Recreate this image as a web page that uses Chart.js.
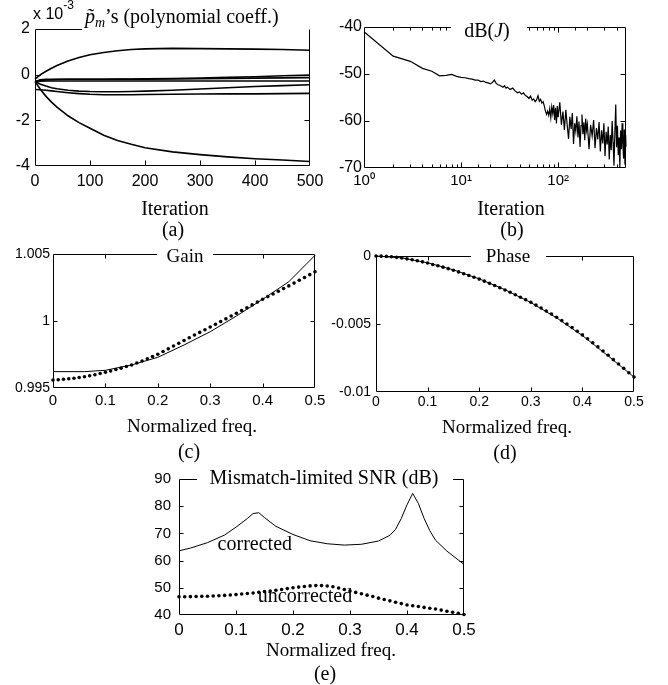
<!DOCTYPE html>
<html>
<head>
<meta charset="utf-8">
<script src="https://cdn.jsdelivr.net/npm/chart.js@4.4.0/dist/chart.umd.min.js"></script>
<style>
  html, body { margin: 0; padding: 0; background: #fff; }
  #wrap { position: relative; width: 668px; height: 685px; overflow: hidden; }
  #wrap canvas { position: absolute; left: 0; top: 0; }
</style>
</head>
<body>
<div id="wrap">
  <canvas id="chartA" width="668" height="685"></canvas>
  <canvas id="chartB" width="668" height="685"></canvas>
  <canvas id="chartC" width="668" height="685"></canvas>
  <canvas id="chartD" width="668" height="685"></canvas>
  <canvas id="chartE" width="668" height="685"></canvas>
</div>
<script>
// ---- (a) polynomial coefficient trajectories, in units of 1e-3 ----
const iterA = [0, 10, 20, 30, 40, 60, 80, 100, 125, 150, 175, 200, 250, 300, 350, 400, 450, 500];
const coefA1 = [-0.2, 0.0, 0.15, 0.28, 0.4, 0.6, 0.75, 0.87, 0.97, 1.05, 1.1, 1.13, 1.15, 1.14, 1.13, 1.12, 1.1, 1.07];
const coefA2 = [-0.3, -0.22, -0.2, -0.2, -0.2, -0.2, -0.2, -0.2, -0.2, -0.19, -0.19, -0.18, -0.17, -0.15, -0.12, -0.09, -0.05, -0.02];
const coefA3 = [-0.3, -0.25, -0.23, -0.22, -0.21, -0.2, -0.2, -0.2, -0.2, -0.2, -0.2, -0.2, -0.19, -0.18, -0.17, -0.15, -0.14, -0.13];
const coefA4 = [-0.3, -0.29, -0.28, -0.28, -0.28, -0.28, -0.28, -0.28, -0.28, -0.28, -0.28, -0.28, -0.28, -0.28, -0.28, -0.28, -0.28, -0.28];
const coefA5 = [-0.3, -0.42, -0.5, -0.57, -0.62, -0.68, -0.72, -0.74, -0.75, -0.75, -0.74, -0.72, -0.68, -0.63, -0.57, -0.52, -0.48, -0.44];
const coefA6 = [-0.65, -0.66, -0.68, -0.71, -0.74, -0.79, -0.83, -0.86, -0.88, -0.88, -0.88, -0.87, -0.86, -0.85, -0.84, -0.84, -0.83, -0.82];
const coefA7 = [-0.3, -0.65, -0.95, -1.2, -1.42, -1.8, -2.1, -2.35, -2.65, -2.88, -3.05, -3.2, -3.38, -3.5, -3.6, -3.68, -3.74, -3.8];

// ---- (b) dB(J) vs iteration ----
const iterB = [
  1, 2, 3, 4, 5, 6, 7, 8, 9, 10,
  11, 12, 13, 14, 15, 16, 17, 18, 19, 20,
  21, 22, 23, 24, 25, 26, 27, 28, 29, 30,
  32, 34, 36, 38, 40, 42, 44, 46, 48, 50, 52, 54, 56, 58,
  60, 62, 64, 66, 68, 70, 72, 74, 76, 78, 80, 82, 84, 86, 88, 90, 92, 94, 96, 98, 100,
  104, 108, 112, 116, 120, 124, 128, 132, 136, 140, 144, 148, 152, 156, 160, 164, 168, 172, 176, 180, 184, 188, 192, 196, 200,
  208, 216, 224, 232, 240, 248, 256, 264, 272, 280, 288, 296, 304, 312, 320, 328, 336, 344, 352, 360,
  368, 376, 384, 392, 400, 408, 416, 424, 432, 440, 448, 456, 464, 472, 480, 488, 496, 500
];
const dbJ = [
  -41.0, -46.2, -47.3, -48.8, -49.4, -50.4, -50.3, -50.1, -50.5, -50.7,
  -50.8, -51.0, -51.1, -51.3, -51.3, -51.6, -51.5, -51.8, -51.9, -52.1,
  -51.8, -51.3, -52.0, -52.3, -52.4, -52.6, -52.8, -52.5, -53.0, -52.8,
  -53.3, -53.0, -53.6, -54.0, -53.8, -54.3, -54.0, -54.6, -54.8, -55.2, -54.7, -55.6, -55.3, -55.9,
  -55.5, -54.6, -55.8, -55.4, -56.2, -55.9, -56.8, -57.9, -58.6, -57.9, -58.8, -57.4, -59.3, -57.0, -58.4, -56.6, -59.8, -57.2, -60.5, -56.8, -59.2,
  -56.0, -60.8, -58.0, -61.9, -57.6, -60.9, -63.8, -59.1, -61.7, -58.3, -64.9, -60.5, -62.2, -59.0, -63.5, -60.1, -65.5, -61.0, -58.6, -62.8, -60.3, -64.1, -59.5, -62.0, -60.7,
  -66.0, -60.8, -63.2, -59.8, -65.8, -61.5, -63.9, -60.2, -66.5, -62.0, -64.8, -60.5, -67.5, -62.3, -65.0, -61.2, -68.2, -63.0, -66.2, -60.0,
  -64.5, -69.5, -62.5, -56.5, -65.6, -61.0, -67.3, -63.5, -69.8, -62.0, -66.0, -60.5, -64.8, -68.0, -61.8, -69.3, -63.0, -65.5
];

// ---- (c)(d)(e) frequency responses ----
const freqDots = [
  0, 0.01, 0.02, 0.03, 0.04, 0.05, 0.06, 0.07, 0.08, 0.09,
  0.10, 0.11, 0.12, 0.13, 0.14, 0.15, 0.16, 0.17, 0.18, 0.19,
  0.20, 0.21, 0.22, 0.23, 0.24, 0.25, 0.26, 0.27, 0.28, 0.29,
  0.30, 0.31, 0.32, 0.33, 0.34, 0.35, 0.36, 0.37, 0.38, 0.39,
  0.40, 0.41, 0.42, 0.43, 0.44, 0.45, 0.46, 0.47, 0.48, 0.49,
  0.50
];
const gainDots = [
  0.9956, 0.99562, 0.99565, 0.99569, 0.99573, 0.99578, 0.99584, 0.99591, 0.99599, 0.99608,
  0.99617, 0.99627, 0.99638, 0.99648, 0.9966, 0.99672, 0.99687, 0.99702, 0.99718, 0.99735,
  0.99752, 0.99772, 0.99792, 0.99813, 0.99834, 0.99855, 0.99875, 0.99895, 0.99915, 0.99935,
  0.99955, 0.99975, 0.99996, 1.00016, 1.00037, 1.00057, 1.00078, 1.00099, 1.0012, 1.00141,
  1.00162, 1.00182, 1.00202, 1.00222, 1.00242, 1.00262, 1.00283, 1.00304, 1.00325, 1.00346,
  1.00368
];
const freqGainLine = [0, 0.06, 0.1, 0.15, 0.2, 0.25, 0.3, 0.35, 0.4, 0.45, 0.5];
const gainLine = [0.99622, 0.99622, 0.99632, 0.99672, 0.99729, 0.99821, 0.9992, 1.00037, 1.00162, 1.00293, 1.0049];

const phaseDots = [
  0, -0.00001, -0.00003, -0.00006, -0.0001, -0.00015, -0.00021, -0.00028, -0.00035, -0.00043,
  -0.00052, -0.00062, -0.00072, -0.00082, -0.00093, -0.00105, -0.00117, -0.0013, -0.00143, -0.00156,
  -0.0017, -0.00185, -0.00201, -0.00217, -0.00233, -0.0025, -0.00267, -0.00285, -0.00303, -0.00321,
  -0.0034, -0.00361, -0.00382, -0.00404, -0.00427, -0.0045, -0.00475, -0.005, -0.00526, -0.00553,
  -0.0058, -0.00609, -0.00638, -0.00668, -0.00699, -0.0073, -0.00762, -0.00794, -0.00826, -0.00858,
  -0.0089
];
const freqPhaseLine = [0, 0.05, 0.1, 0.15, 0.2, 0.25, 0.3, 0.35, 0.4, 0.45, 0.5];
const phaseLine = [0, -0.00014, -0.0005, -0.00102, -0.00168, -0.00248, -0.00342, -0.00455, -0.00585, -0.00735, -0.0089];

const snrUncorr = [
  46.7, 46.7, 46.75, 46.8, 46.85, 46.9, 47.0, 47.1, 47.2, 47.35,
  47.5, 47.7, 47.9, 48.1, 48.35, 48.6, 48.85, 49.1, 49.4, 49.7,
  50.0, 50.25, 50.5, 50.7, 50.8, 50.8, 50.65, 50.4, 49.9, 49.4,
  48.8, 48.3, 47.8, 47.3, 46.8, 46.2, 45.7, 45.2, 44.7, 44.2,
  43.7, 43.4, 43.1, 42.8, 42.5, 42.2, 41.8, 41.4, 41.0, 40.6,
  40.2
];
const freqSnrLine = [0, 0.02, 0.05, 0.08, 0.1, 0.12, 0.13, 0.14, 0.15, 0.17, 0.2, 0.23, 0.26, 0.29, 0.32,
  0.35, 0.37, 0.38, 0.39, 0.4, 0.41, 0.42, 0.43, 0.44, 0.45, 0.47, 0.5];
const snrCorr = [63.6, 64.6, 66.6, 69.4, 72.3, 75.5, 77.3, 77.6, 75.8, 72.6, 69.6, 67.3, 66.2, 65.7, 66.0,
  67.2, 69.3, 71.5, 75.5, 80.5, 84.7, 81.0, 75.5, 71.0, 67.5, 63.5, 58.6];

const W = 668, H = 685;
const SANS = '"Liberation Sans", Arial, sans-serif';
const SERIF = '"Liberation Serif", "Times New Roman", serif';
const serif = (size, style) => (style ? style + ' ' : '') + size + 'px ' + SERIF;

function pts(xs, ys) {
  return xs.map((x, i) => ({ x: x, y: ys[i] }));
}

function lineSet(xs, ys, width) {
  return { data: pts(xs, ys), borderColor: '#000', borderWidth: width || 1, pointRadius: 0,
           tension: 0, fill: false, clip: 2 };
}

function dotSet(xs, ys) {
  return { data: pts(xs, ys), showLine: false, pointRadius: 1.8, pointBorderWidth: 0,
           pointBackgroundColor: '#000', borderColor: '#000', clip: 4 };
}

function isDecade(v) {
  const l = Math.log10(v);
  return Math.abs(l - Math.round(l)) < 1e-9;
}

// draws the MATLAB-like box with inward ticks, the gap for the title, and the extra texts
const framePlugin = {
  id: 'frame',
  afterDatasetsDraw(chart, args, o) {
    const ctx = chart.ctx, a = chart.chartArea;
    const xs = chart.scales.x, ys = chart.scales.y;
    const L = Math.round(a.left) + 0.5, R = Math.round(a.right) - 0.5;
    const T = Math.round(a.top) + 0.5, B = Math.round(a.bottom) - 0.5;
    ctx.save();
    ctx.strokeStyle = '#000';
    ctx.lineWidth = 1;
    ctx.beginPath();
    ctx.moveTo(L, T); ctx.lineTo(L, B); ctx.lineTo(R, B); ctx.lineTo(R, T);
    if (o.gap) {
      ctx.lineTo(Math.min(o.gap[1], R), T);
      ctx.moveTo(o.gap[0], T); ctx.lineTo(L, T);
    } else {
      ctx.lineTo(L, T);
    }
    // inward ticks
    xs.ticks.forEach(t => {
      const p = Math.round(xs.getPixelForValue(t.value)) + 0.5;
      if (p <= L + 1 || p >= R - 1) return;
      const len = (o.logMinor && !isDecade(t.value)) ? o.logMinor : o.tick;
      ctx.moveTo(p, B); ctx.lineTo(p, B - len);
      if (!(o.gap && p > o.gap[0] && p < o.gap[1])) {
        ctx.moveTo(p, T); ctx.lineTo(p, T + len);
      }
    });
    ys.ticks.forEach(t => {
      const p = Math.round(ys.getPixelForValue(t.value)) + 0.5;
      if (p <= T + 1 || p >= B - 1) return;
      ctx.moveTo(L, p); ctx.lineTo(L + o.tick, p);
      ctx.moveTo(R, p); ctx.lineTo(R - o.tick, p);
    });
    ctx.stroke();

    ctx.fillStyle = '#000';
    ctx.textBaseline = 'alphabetic';
    ctx.textAlign = 'left';
    (o.texts || []).forEach(tx => {
      let x = tx.data ? xs.getPixelForValue(tx.x) : tx.x;
      const y = tx.data ? ys.getPixelForValue(tx.y) : tx.y;
      let w = 0;
      tx.parts.forEach(p => { ctx.font = p.f; w += ctx.measureText(p.t).width; });
      if (tx.align === 'center') x -= w / 2;
      tx.parts.forEach(p => {
        ctx.font = p.f;
        ctx.fillText(p.t, x, y + (p.dy || 0));
        x += ctx.measureText(p.t).width;
      });
    });
    ctx.restore();
  }
};

function axis(base, size, pad, fit) {
  return Object.assign({
    type: 'linear',
    grid: { display: false, drawTicks: false },
    border: { display: false },
    ticks: { font: { family: SANS, size: size }, color: '#000', padding: pad,
             maxRotation: 0, autoSkip: false },
    afterFit: fit
  }, base, { ticks: Object.assign({ font: { family: SANS, size: size }, color: '#000', padding: pad,
             maxRotation: 0, autoSkip: false }, base.ticks || {}) });
}

function makeChart(id, cfg) {
  const [l, t, r, b] = cfg.box;
  return new Chart(document.getElementById(id), {
    type: 'line',
    data: { datasets: cfg.datasets },
    options: {
      responsive: false,
      animation: false,
      events: [],
      layout: { padding: { left: l - cfg.yW, top: t, right: W - r, bottom: H - b - cfg.xH } },
      plugins: { legend: { display: false }, tooltip: { enabled: false }, frame: cfg.frame },
      scales: {
        x: axis(cfg.x, cfg.xFont, cfg.xPad, s => { s.height = cfg.xH; s.paddingLeft = 0; s.paddingRight = 0; }),
        y: axis(cfg.y, cfg.yFont, cfg.yPad, s => { s.width = cfg.yW; s.paddingTop = 0; s.paddingBottom = 0; })
      }
    },
    plugins: [framePlugin]
  });
}

// (a)
makeChart('chartA', {
  box: [35, 29, 310, 166], yW: 35, xH: 40, xFont: 16, xPad: 6, yFont: 16, yPad: 5,
  datasets: [coefA1, coefA2, coefA3, coefA4, coefA5, coefA6, coefA7].map(c => lineSet(iterA, c, 1.6)),
  x: { min: 0, max: 500, ticks: { stepSize: 100 } },
  y: { min: -4, max: 2, ticks: { stepSize: 2 } },
  frame: {
    tick: 5, gap: [82, 312],
    texts: [
      { x: 33, y: 19, parts: [{ t: 'x 10', f: '16px ' + SANS }, { t: '-3', f: '12px ' + SANS, dy: -10 }] },
      { x: 85, y: 23, parts: [
        { t: 'p\u0303', f: serif(20, 'italic') },
        { t: 'm', f: serif(14, 'italic'), dy: 4 },
        { t: '\u2019s (polynomial coeff.)', f: serif(20) }] },
      { x: 175, y: 215, align: 'center', parts: [{ t: 'Iteration', f: serif(20) }] },
      { x: 173, y: 236, align: 'center', parts: [{ t: '(a)', f: serif(20) }] }
    ]
  }
});

// (b)
makeChart('chartB', {
  box: [364, 27, 626, 168], yW: 50, xH: 40, xFont: 15, xPad: 4, yFont: 16, yPad: 2,
  datasets: [lineSet(iterB, dbJ, 1.2)],
  x: { type: 'logarithmic', min: 1, max: 500,
       ticks: { callback: v => v === 1 ? '10\u2070' : v === 10 ? '10\u00b9' : v === 100 ? '10\u00b2' : '' } },
  y: { min: -70, max: -40, ticks: { stepSize: 10 } },
  frame: {
    tick: 5, logMinor: 3, gap: [451, 527],
    texts: [
      { x: 487, y: 37, align: 'center', parts: [
        { t: 'dB(', f: serif(20) }, { t: 'J', f: serif(20, 'italic') }, { t: ')', f: serif(20) }] },
      { x: 511, y: 215, align: 'center', parts: [{ t: 'Iteration', f: serif(20) }] },
      { x: 512, y: 236, align: 'center', parts: [{ t: '(b)', f: serif(20) }] }
    ]
  }
});

// (c)
makeChart('chartC', {
  box: [53, 254, 315, 388], yW: 50, xH: 40, xFont: 15, xPad: 4, yFont: 14, yPad: 3,
  datasets: [lineSet(freqGainLine, gainLine, 1), dotSet(freqDots, gainDots)],
  x: { min: 0, max: 0.5, ticks: { stepSize: 0.1 } },
  y: { min: 0.995, max: 1.005, ticks: { stepSize: 0.005, callback: v => String(+v.toFixed(4)) } },
  frame: {
    tick: 4, gap: [157, 213],
    texts: [
      { x: 185, y: 262, align: 'center', parts: [{ t: 'Gain', f: serif(19) }] },
      { x: 192, y: 432, align: 'center', parts: [{ t: 'Normalized freq.', f: serif(19) }] },
      { x: 189, y: 458, align: 'center', parts: [{ t: '(c)', f: serif(20) }] }
    ]
  }
});

// (d)
makeChart('chartD', {
  box: [376, 256, 634, 392], yW: 60, xH: 40, xFont: 14, xPad: 2, yFont: 14, yPad: 5,
  datasets: [lineSet(freqPhaseLine, phaseLine, 1), dotSet(freqDots, phaseDots)],
  x: { min: 0, max: 0.5, ticks: { stepSize: 0.1 } },
  y: { min: -0.01, max: 0, ticks: { stepSize: 0.005, callback: v => String(+v.toFixed(4)) } },
  frame: {
    tick: 4, gap: [471, 546],
    texts: [
      { x: 508, y: 262, align: 'center', parts: [{ t: 'Phase', f: serif(19) }] },
      { x: 507, y: 433, align: 'center', parts: [{ t: 'Normalized freq.', f: serif(19) }] },
      { x: 505, y: 459, align: 'center', parts: [{ t: '(d)', f: serif(20) }] }
    ]
  }
});

// (e)
makeChart('chartE', {
  box: [179, 479, 464, 615], yW: 50, xH: 40, xFont: 17, xPad: 5, yFont: 15, yPad: 8,
  datasets: [lineSet(freqSnrLine, snrCorr, 1), dotSet(freqDots, snrUncorr)],
  x: { min: 0, max: 0.5, ticks: { stepSize: 0.1 } },
  y: { min: 40, max: 90, ticks: { stepSize: 10 } },
  frame: {
    tick: 4, gap: [197, 453],
    texts: [
      { x: 324, y: 484, align: 'center', parts: [{ t: 'Mismatch-limited SNR (dB)', f: serif(20) }] },
      { x: 0.133, y: 63.9, data: true, align: 'center', parts: [{ t: 'corrected', f: serif(20) }] },
      { x: 0.221, y: 44.8, data: true, align: 'center', parts: [{ t: 'uncorrected', f: serif(20) }] },
      { x: 331, y: 656, align: 'center', parts: [{ t: 'Normalized freq.', f: serif(19) }] },
      { x: 325, y: 680, align: 'center', parts: [{ t: '(e)', f: serif(20) }] }
    ]
  }
});
</script>
</body>
</html>
